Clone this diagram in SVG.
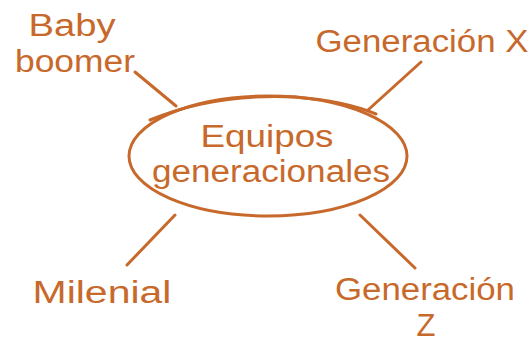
<svg xmlns="http://www.w3.org/2000/svg" width="531" height="342" viewBox="0 0 531 342">
<style>
.t{font-family:"Liberation Sans",Arial,sans-serif;font-size:31px;fill:#c8692c;text-anchor:middle}
.s{fill:none;stroke:#c8692c;stroke-width:3;stroke-linecap:round}
</style>
<rect width="531" height="342" fill="#ffffff"/>
<g id="connectors">
<line class="s" x1="135" y1="72" x2="176" y2="106"/>
<line class="s" x1="421" y1="62" x2="368" y2="110"/>
<line class="s" x1="127" y1="265" x2="175" y2="215"/>
<line class="s" x1="360" y1="215" x2="415" y2="268"/>
</g>
<g id="center">
<ellipse class="s" cx="268" cy="156" rx="139" ry="60"/>
<path class="s" d="M150 120 Q215 93 295 97 Q345 101 376 114" stroke-width="2"/>
<text class="t" x="267" y="147" textLength="133" lengthAdjust="spacingAndGlyphs">Equipos</text>
<text class="t" x="271" y="182" textLength="238" lengthAdjust="spacingAndGlyphs">generacionales</text>
</g>
<g id="baby-boomer">
<text class="t" x="72" y="36" textLength="87" lengthAdjust="spacingAndGlyphs">Baby</text>
<text class="t" x="75" y="72" textLength="120" lengthAdjust="spacingAndGlyphs">boomer</text>
</g>
<g id="generacion-x">
<text class="t" x="422" y="52" textLength="213" lengthAdjust="spacingAndGlyphs">Generación X</text>
</g>
<g id="milenial">
<text class="t" x="102" y="303" textLength="139" lengthAdjust="spacingAndGlyphs">Milenial</text>
</g>
<g id="generacion-z">
<text class="t" x="425" y="300" textLength="180" lengthAdjust="spacingAndGlyphs">Generación</text>
<text class="t" x="426" y="336">Z</text>
</g>
</svg>
